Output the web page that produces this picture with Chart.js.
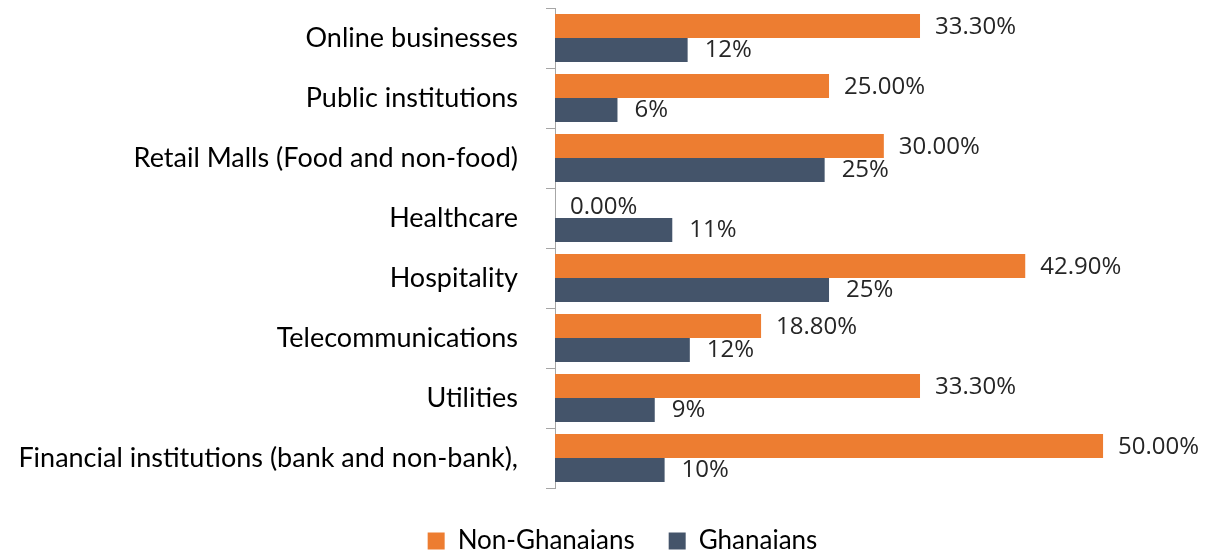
<!DOCTYPE html>
<html>
<head>
<meta charset="utf-8">
<script src="https://cdn.jsdelivr.net/npm/chart.js@4"></script>
<style>
  html, body { margin: 0; padding: 0; background: #ffffff; }
  #wrap { width: 1205px; height: 556px; position: relative; }
</style>
</head>
<body>
<div id="wrap"><canvas id="c" width="1205" height="556"></canvas></div>
<script>
const categories = [
  "Online businesses",
  "Public institutions",
  "Retail Malls (Food and non-food)",
  "Healthcare",
  "Hospitality",
  "Telecommunications",
  "Utilities",
  "Financial institutions (bank and non-bank),"
];
const nonGhanaians = [33.3, 25.0, 30.0, 0.0, 42.9, 18.8, 33.3, 50.0];
const ghanaians = [12.1, 5.7, 24.6, 10.7, 25.0, 12.3, 9.1, 10.0];
const seriesNames = ["Non-Ghanaians", "Ghanaians"];
const seriesColors = ["#ED7D31", "#44546A"];
const xMax = 59.3;

const labelFont = "Lato";
const valueFont = "'Open Sans'";

const valueLabels = {
  id: 'valueLabels',
  afterDatasetsDraw(chart) {
    const ctx = chart.ctx;
    ctx.save();
    ctx.font = "400 24px " + valueFont;
    ctx.fillStyle = "#262626";
    ctx.textAlign = "left";
    ctx.textBaseline = "middle";
    chart.data.datasets.forEach((ds, di) => {
      const meta = chart.getDatasetMeta(di);
      meta.data.forEach((el, i) => {
        const v = ds.data[i];
        const txt = di === 0 ? v.toFixed(2) + "%" : Math.round(v) + "%";
        const off = di === 0 ? 15 : 17;
        const dy = di === 0 ? 1.5 : 0;
        ctx.fillText(txt, el.x + off, el.y + dy);
      });
    });
    ctx.restore();
  }
};

// shift the legend's box so it is centred like the reference
const legendShift = {
  id: 'legendShift',
  afterLayout(chart) {
    const l = chart.legend;
    if (l) { l.left += 40; l.width -= 40; }
  }
};

new Chart(document.getElementById('c'), {
  type: 'bar',
  data: {
    labels: categories,
    datasets: [
      { label: seriesNames[0], data: nonGhanaians, backgroundColor: seriesColors[0], categoryPercentage: 0.8, barPercentage: 1.0 },
      { label: seriesNames[1], data: ghanaians, backgroundColor: seriesColors[1], categoryPercentage: 0.8, barPercentage: 1.0 }
    ]
  },
  options: {
    indexAxis: 'y',
    responsive: false,
    animation: false,
    devicePixelRatio: 1,
    layout: { padding: { top: 8, left: 0, right: 0, bottom: 0 } },
    scales: {
      x: {
        min: 0, max: xMax,
        display: true,
        ticks: { display: false },
        grid: { display: false, drawTicks: false },
        border: { display: false },
        afterFit(s) { s.height = 6; s.paddingLeft = 0; s.paddingRight = 0; }
      },
      y: {
        offset: true,
        ticks: { color: "#000000", padding: 28, font: { family: labelFont, size: 27 } },
        grid: { drawOnChartArea: false, drawTicks: true, tickLength: 9, color: "#A6A6A6", offset: true },
        border: { display: true, color: "#A6A6A6", width: 1 },
        afterFit(s) { s.width = 555; s.paddingTop = 0; s.paddingBottom = 0; }
      }
    },
    plugins: {
      legend: {
        position: 'bottom',
        align: 'center',
        maxHeight: 62,
        labels: {
          color: "#000000",
          font: { family: labelFont, size: 26 },
          boxWidth: 17, boxHeight: 17,
          padding: 34
        }
      },
      tooltip: { enabled: false }
    }
  },
  plugins: [valueLabels, legendShift]
});
</script>
</body>
</html>
